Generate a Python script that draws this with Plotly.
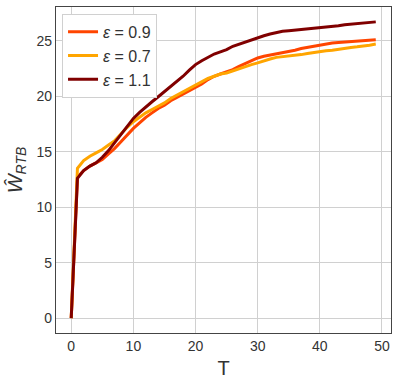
import plotly.graph_objects as go

T = list(range(50))

w_09 = [0, 12.7, 13.3, 13.7, 14.0, 14.3, 14.8, 15.3, 15.9, 16.5,
        17.1, 17.6, 18.1, 18.5, 18.9, 19.2, 19.6, 19.9, 20.2, 20.5,
        20.8, 21.1, 21.5, 21.8, 22.0, 22.2, 22.4, 22.7, 22.95, 23.2,
        23.45, 23.6, 23.7, 23.8, 23.9, 24.0, 24.15, 24.3, 24.4, 24.5,
        24.65, 24.7, 24.8, 24.85, 24.9, 24.95, 25.0, 25.0, 25.05, 25.1]
w_07 = [0, 13.5, 14.2, 14.6, 14.9, 15.2, 15.6, 16.0, 16.6, 17.2,
        17.7, 18.1, 18.5, 18.8, 19.1, 19.4, 19.8, 20.1, 20.4, 20.7,
        21.0, 21.3, 21.6, 21.8, 22.0, 22.1, 22.3, 22.5, 22.7, 22.85,
        23.0, 23.2, 23.35, 23.5, 23.55, 23.6, 23.7, 23.75, 23.85, 23.95,
        24.05, 24.1, 24.15, 24.25, 24.3, 24.4, 24.45, 24.5, 24.6, 24.7]
w_11 = [0, 12.6, 13.3, 13.7, 14.0, 14.5, 15.1, 15.8, 16.6, 17.3,
        18.0, 18.55, 19.05, 19.5, 19.95, 20.4, 20.9, 21.35, 21.8, 22.35,
        22.85, 23.2, 23.5, 23.8, 24.0, 24.2, 24.5, 24.7, 24.9, 25.1,
        25.3, 25.45, 25.6, 25.75, 25.85, 25.9, 25.95, 26.0, 26.1, 26.15,
        26.2, 26.25, 26.3, 26.35, 26.45, 26.5, 26.55, 26.6, 26.65, 26.7]

series = [("0.9", w_09, "#ff4500"), ("0.7", w_07, "#ffa500"), ("1.1", w_11, "#800000")]

fig = go.Figure()
for eps, w, col in series:
    fig.add_trace(go.Scatter(x=T, y=w, mode="lines", name="<i>ε</i> = " + eps,
                             line=dict(color=col, width=3)))

axis_style = dict(showline=True, linecolor="#444", linewidth=1.2, mirror=True,
                  showgrid=True, gridcolor="#d0d0d0", gridwidth=1, zeroline=False,
                  ticks="", automargin=False, tickfont=dict(size=14, color="#333"))

fig.update_layout(
    width=398, height=383,
    margin=dict(l=56, r=7, t=7, b=50),
    plot_bgcolor="white", paper_bgcolor="white",
    font=dict(family="Liberation Sans, Arial, sans-serif", color="#333"),
    showlegend=True,
    legend=dict(x=0.018, y=0.979, xanchor="left", yanchor="top",
                bgcolor="white", bordercolor="#d0d0d0", borderwidth=1,
                font=dict(size=16, color="#333"), tracegroupgap=0),
    xaxis=dict(range=[-2.45, 51.45], tickvals=[0, 10, 20, 30, 40, 50],
               title=dict(text="T", font=dict(size=20, color="#333"), standoff=8),
               **axis_style),
    yaxis=dict(range=[-1.335, 28.04], tickvals=[0, 5, 10, 15, 20, 25],
               title=dict(text="<i>Ŵ</i><sub><i>RTB</i></sub>", font=dict(size=20, color="#333"), standoff=8),
               **axis_style),
)

fig.write_html("out.html", config={"displayModeBar": False},
               post_script="document.body.style.margin='0';")
